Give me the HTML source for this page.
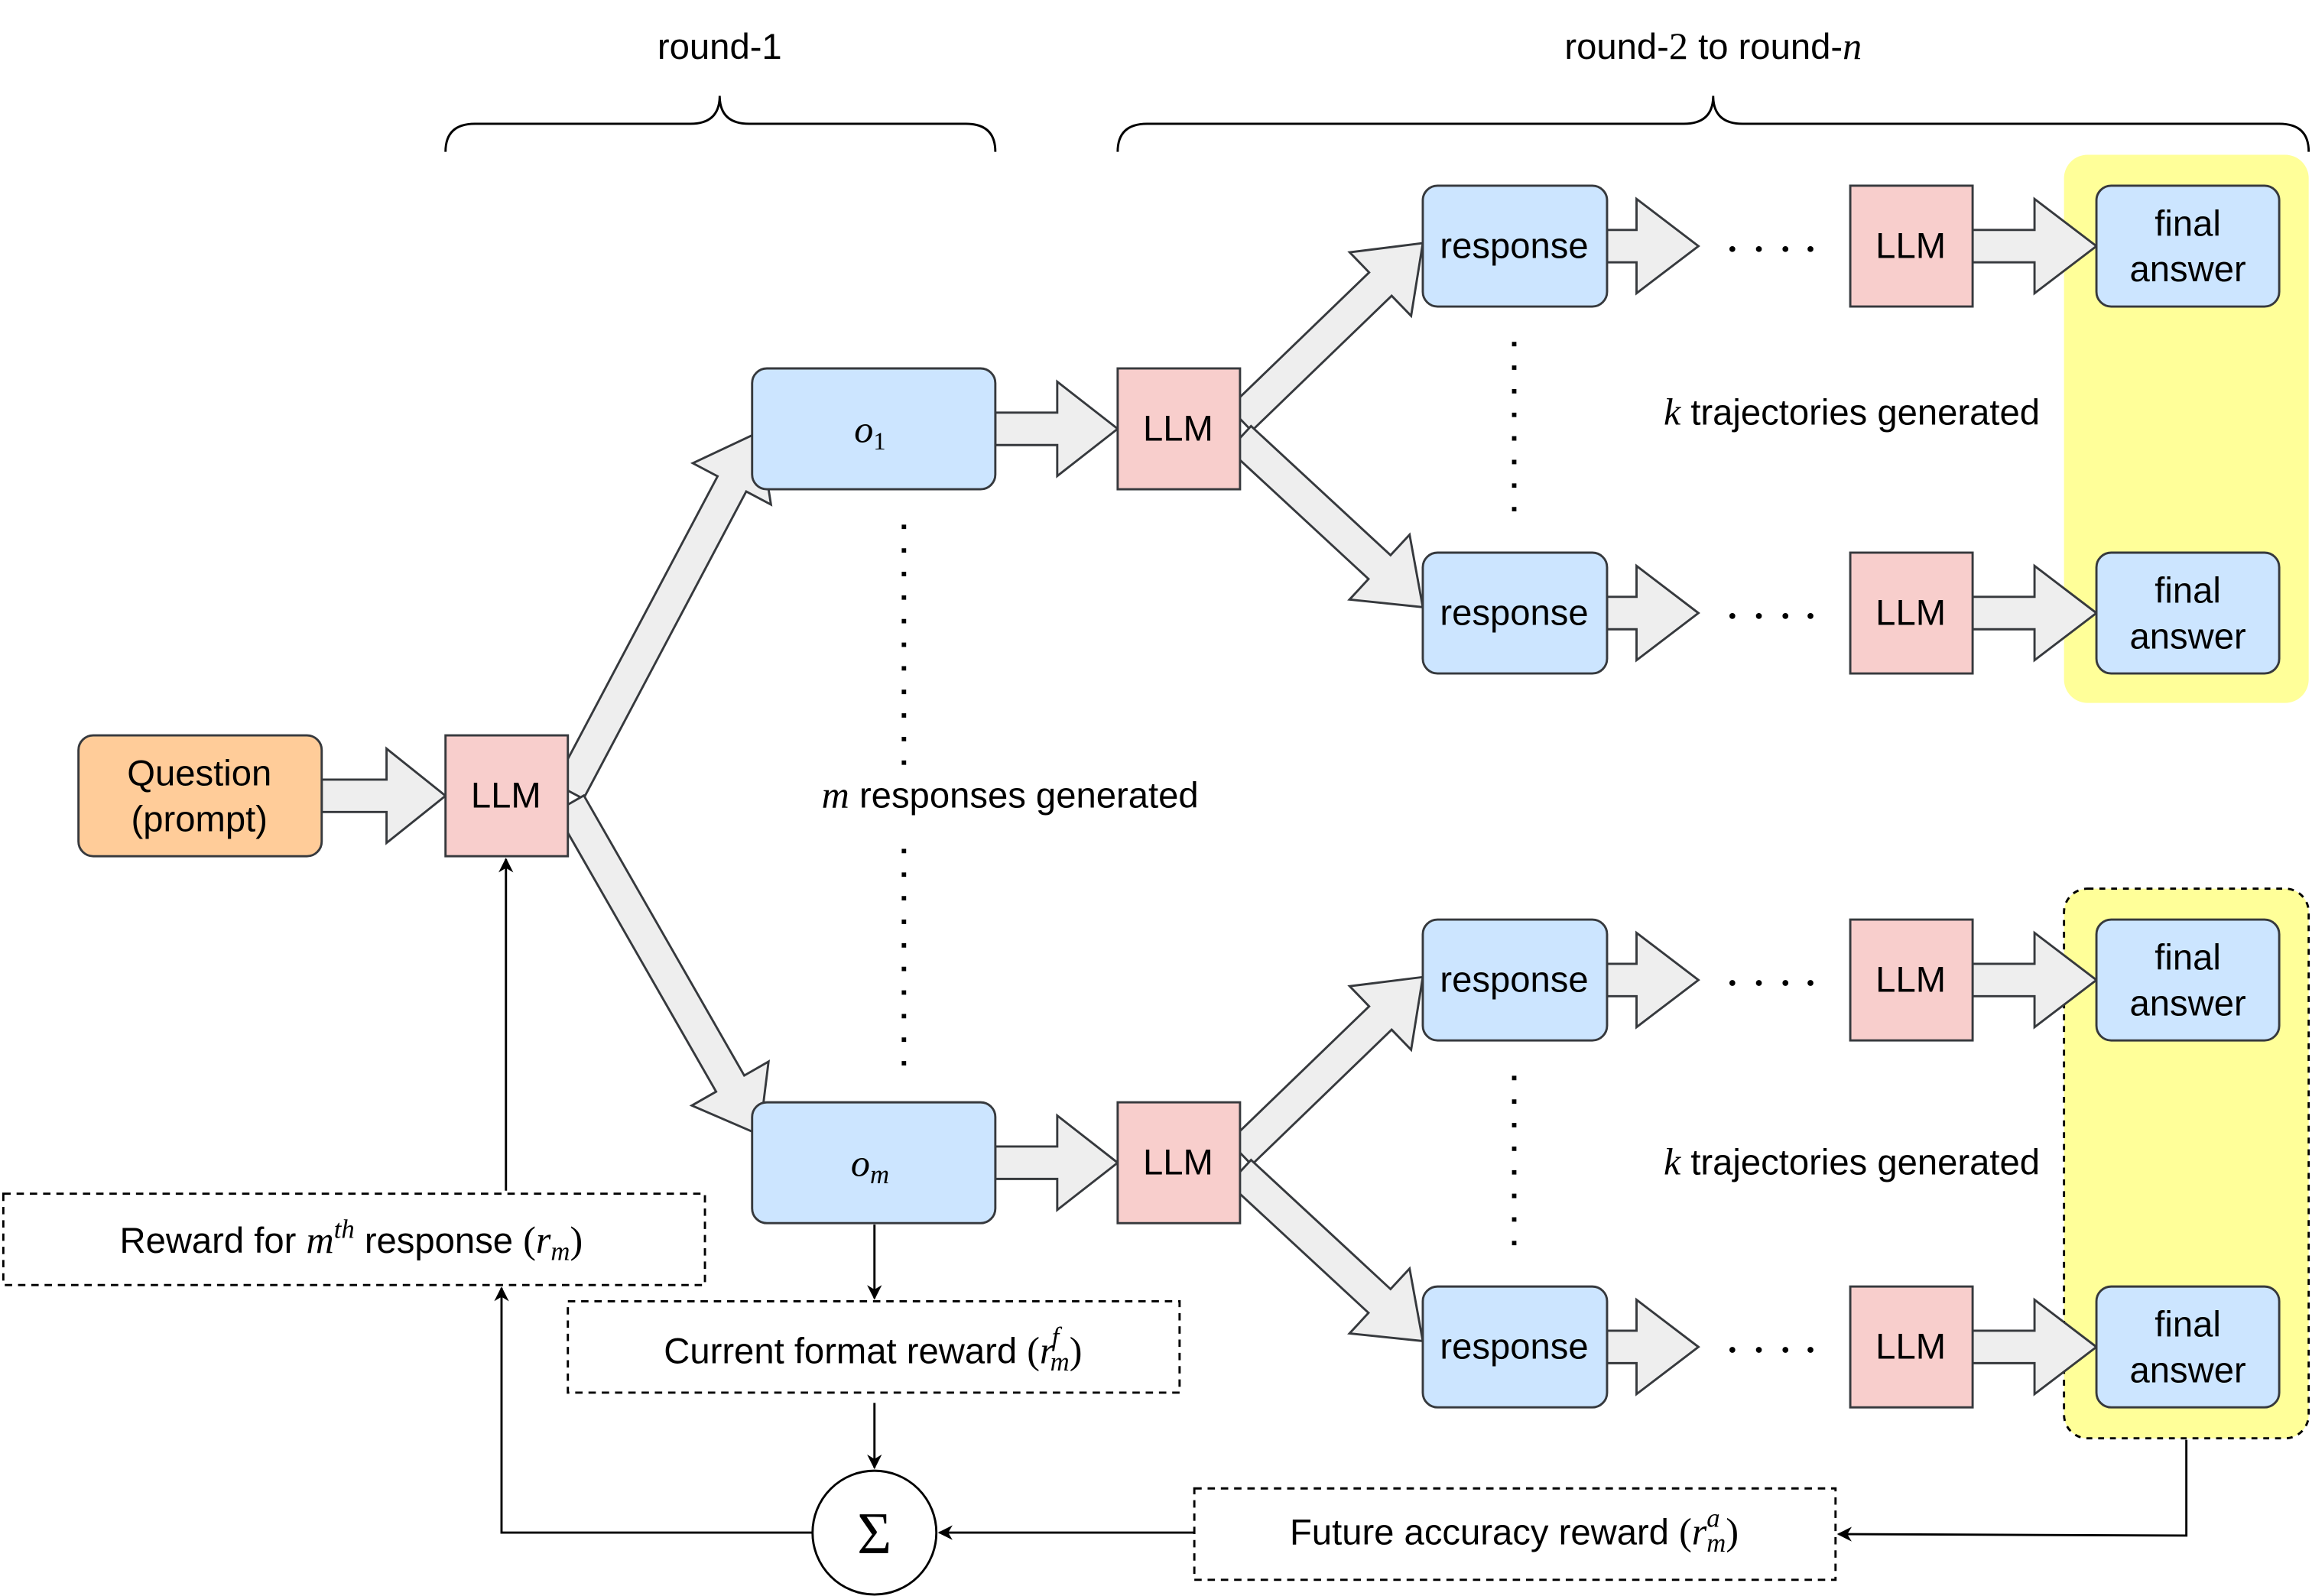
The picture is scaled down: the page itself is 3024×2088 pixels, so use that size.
<!DOCTYPE html>
<html><head><meta charset="utf-8"><style>
html,body{margin:0;padding:0;background:#fff;}
svg{display:block;}
text{font-family:"Liberation Sans",sans-serif;font-size:24.5px;fill:#000;}
.m{font-family:"Liberation Serif",serif;font-style:italic;}
.mr{font-family:"Liberation Serif",serif;}
</style></head><body>
<svg width="3024" height="2088" viewBox="0 0 1568 1083" xmlns="http://www.w3.org/2000/svg">
<defs>
<marker id="ah" markerWidth="10" markerHeight="10" refX="9" refY="5" orient="auto" markerUnits="userSpaceOnUse">
<path d="M0,0 L10,5 L0,10 L3,5 Z" fill="#000"/></marker>
</defs>
<rect width="1568" height="1083" fill="#fff"/>
<rect x="1400" y="105" width="166" height="372" rx="16" fill="#ffff99"/>
<rect x="1400" y="603" width="166" height="373" rx="16" fill="#ffff99" stroke="#000" stroke-width="1.5" stroke-dasharray="4,4"/>
<text x="488" y="40" text-anchor="middle">round-1</text>
<path d="M302,103 Q302,84 322,84 L468,84 Q488,84 488,65 Q488,84 508,84 L655,84 Q675,84 675,103" fill="none" stroke="#000" stroke-width="1.5"/>
<text x="1162" y="40" text-anchor="middle">round-<tspan class="mr" style="font-size:26px">2</tspan>  to  round-<tspan class="m" style="font-size:26px">n</tspan></text>
<path d="M758,103 Q758,84 778,84 L1142,84 Q1162,84 1162,65 Q1162,84 1182,84 L1546,84 Q1566,84 1566,103" fill="none" stroke="#000" stroke-width="1.5"/>
<g fill="#eeeeee" stroke="#36393d" stroke-width="1.5">
<polygon points="218,529 262,529 262,508 302,540 262,572 262,551 218,551"/>
<polygon points="675,280 717,280 717,259 758,291 717,323 717,302 675,302"/>
<polygon points="675,778 717,778 717,757 758,789 717,821 717,800 675,800"/>
<g id="rowarrows">
<polygon points="1090,156 1110,156 1110,135 1152,167 1110,199 1110,178 1090,178"/>
<polygon points="1338,156 1380,156 1380,135 1422,167 1380,199 1380,178 1338,178"/>
</g>
<use href="#rowarrows" transform="translate(0,249)"/>
<use href="#rowarrows" transform="translate(0,498)"/>
<use href="#rowarrows" transform="translate(0,747)"/>
<polygon points="0,0 -40,-30 -40,-11 -276,-11 -276,11 -40,11 -40,30" transform="translate(515,293) rotate(-62.1)"/>
<polygon points="0,0 -40,-30 -40,-11 -259,-11 -259,11 -40,11 -40,30" transform="translate(515,770) rotate(60.2)"/>
<polygon points="0,0 -40,-30 -40,-11 -172,-11 -172,11 -40,11 -40,30" transform="translate(965,165) rotate(-44)"/>
<polygon points="0,0 -40,-30 -40,-11 -169,-11 -169,11 -40,11 -40,30" transform="translate(965,412) rotate(42.8)"/>
<polygon points="0,0 -40,-30 -40,-11 -172,-11 -172,11 -40,11 -40,30" transform="translate(965,663) rotate(-44)"/>
<polygon points="0,0 -40,-30 -40,-11 -169,-11 -169,11 -40,11 -40,30" transform="translate(965,910) rotate(42.8)"/>
</g>
<g stroke="#36393d" stroke-width="1.5">
<rect x="53" y="499" width="165" height="82" rx="10" fill="#ffcc99"/>
<rect x="302" y="499" width="83" height="82" fill="#f8cecc"/>
<rect x="510" y="250" width="165" height="82" rx="10" fill="#cce5ff"/>
<rect x="510" y="748" width="165" height="82" rx="10" fill="#cce5ff"/>
<rect x="758" y="250" width="83" height="82" fill="#f8cecc"/>
<rect x="758" y="748" width="83" height="82" fill="#f8cecc"/>
<g id="row">
<rect x="965" y="126" width="125" height="82" rx="10" fill="#cce5ff"/>
<rect x="1255" y="126" width="83" height="82" fill="#f8cecc"/>
<rect x="1422" y="126" width="124" height="82" rx="10" fill="#cce5ff"/>
</g>
<use href="#row" transform="translate(0,249)"/>
<use href="#row" transform="translate(0,498)"/>
<use href="#row" transform="translate(0,747)"/>
</g>
<text x="135" y="533" text-anchor="middle">Question</text>
<text x="135" y="564" text-anchor="middle">(prompt)</text>
<text x="343" y="548" text-anchor="middle">LLM</text>
<text x="799" y="299" text-anchor="middle">LLM</text>
<text x="799" y="797" text-anchor="middle">LLM</text>
<text x="590" y="300" text-anchor="middle" class="m" style="font-size:26px">o<tspan class="mr" style="font-size:17px;font-style:normal" dy="5">1</tspan></text>
<text x="590" y="798" text-anchor="middle" class="m" style="font-size:26px">o<tspan style="font-size:18px" dy="5">m</tspan></text>
<g id="rowtext">
<text x="1027" y="175" text-anchor="middle">response</text>
<text x="1296" y="175" text-anchor="middle">LLM</text>
<text x="1484" y="160" text-anchor="middle">final</text>
<text x="1484" y="191" text-anchor="middle">answer</text>
<g fill="#000"><circle cx="1175" cy="169" r="2"/><circle cx="1193" cy="169" r="2"/><circle cx="1211" cy="169" r="2"/><circle cx="1228" cy="169" r="2"/></g>
</g>
<use href="#rowtext" transform="translate(0,249)"/>
<use href="#rowtext" transform="translate(0,498)"/>
<use href="#rowtext" transform="translate(0,747)"/>
<text x="685" y="548" text-anchor="middle"><tspan class="m" style="font-size:26px">m</tspan> responses generated</text>
<text x="1256" y="288" text-anchor="middle"><tspan class="m" style="font-size:26px">k</tspan> trajectories generated</text>
<text x="1256" y="797" text-anchor="middle"><tspan class="m" style="font-size:26px">k</tspan> trajectories generated</text>
<g stroke="#000" stroke-width="3" stroke-dasharray="3,13">
<line x1="613" y1="356" x2="613" y2="525"/>
<line x1="613" y1="576" x2="613" y2="735"/>
<line x1="1027" y1="232" x2="1027" y2="360"/>
<line x1="1027" y1="730" x2="1027" y2="858"/>
</g>
<g fill="#fff" stroke="#000" stroke-width="1.5" stroke-dasharray="5,4">
<rect x="2" y="810" width="476" height="62"/>
<rect x="385" y="883" width="415" height="62"/>
<rect x="810" y="1010" width="435" height="62"/>
</g>
<text x="238" y="850" text-anchor="middle">Reward for <tspan class="m" style="font-size:26px">m</tspan><tspan class="m" style="font-size:18px" dy="-10">th</tspan><tspan dy="10"> response </tspan><tspan class="mr" style="font-size:26px">(</tspan><tspan class="m" style="font-size:26px">r</tspan><tspan class="m" style="font-size:18px" dy="5">m</tspan><tspan class="mr" style="font-size:26px" dy="-5">)</tspan></text>
<text x="592" y="925" text-anchor="middle">Current format reward <tspan class="mr" style="font-size:26px">(</tspan><tspan class="m" style="font-size:26px">r</tspan><tspan class="m" style="font-size:18px" dx="-2" dy="-12">f</tspan><tspan class="m" style="font-size:18px" dx="-6" dy="17">m</tspan><tspan class="mr" style="font-size:26px" dy="-5">)</tspan></text>
<text x="1027" y="1048" text-anchor="middle">Future accuracy reward <tspan class="mr" style="font-size:26px">(</tspan><tspan class="m" style="font-size:26px">r</tspan><tspan class="m" style="font-size:18px" dy="-12">a</tspan><tspan class="m" style="font-size:18px" dx="-9" dy="17">m</tspan><tspan class="mr" style="font-size:26px" dy="-5">)</tspan></text>
<circle cx="593" cy="1040" r="42" fill="#fff" stroke="#000" stroke-width="1.5"/>
<text x="593" y="1054" text-anchor="middle" class="mr" style="font-size:40px">Σ</text>
<g stroke="#000" stroke-width="1.5" fill="none" marker-end="url(#ah)">
<line x1="343" y1="808" x2="343" y2="583"/>
<line x1="593" y1="831" x2="593" y2="881"/>
<line x1="593" y1="952" x2="593" y2="996"/>
<line x1="810" y1="1040" x2="637" y2="1040"/>
<polyline points="1483,977 1483,1042 1247,1041"/>
<polyline points="551,1040 340,1040 340,874"/>
</g>
</svg>
</body></html>
